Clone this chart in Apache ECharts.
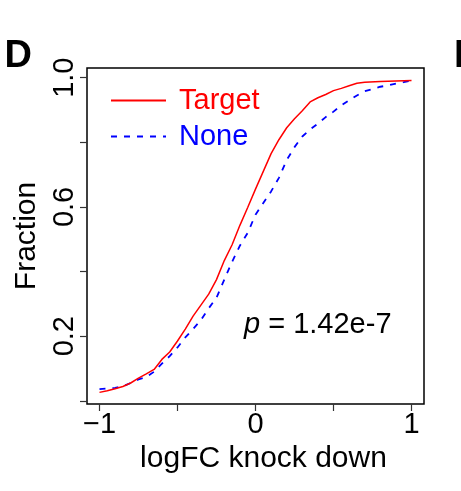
<!DOCTYPE html>
<html>
<head>
<meta charset="utf-8">
<script src="https://cdn.jsdelivr.net/npm/echarts@6/dist/echarts.min.js"></script>
<style>
  html, body { margin: 0; padding: 0; background: #fff; }
  #main { width: 461px; height: 491px; }
</style>
</head>
<body>
<div id="main"></div>
<script>
var FONT = '"Liberation Sans", Arial, Helvetica, sans-serif';

// logFC knock down (x) vs cumulative fraction (y)
var targetX = [-1.0, -0.95, -0.9, -0.85, -0.8, -0.75, -0.7, -0.65, -0.6, -0.55, -0.5, -0.45, -0.4, -0.35, -0.3, -0.25, -0.2, -0.15, -0.1, -0.05,
  0.0, 0.05, 0.1, 0.15, 0.2, 0.25, 0.3, 0.35, 0.4, 0.45, 0.5, 0.55, 0.6, 0.65, 0.7, 0.8, 0.9, 1.0];
var targetY = [0.026, 0.031, 0.037, 0.044, 0.055, 0.070, 0.083, 0.097, 0.128, 0.151, 0.185, 0.222, 0.262, 0.296, 0.330, 0.375, 0.434, 0.483, 0.543, 0.598,
  0.655, 0.710, 0.765, 0.808, 0.845, 0.873, 0.898, 0.925, 0.938, 0.948, 0.960, 0.967, 0.975, 0.983, 0.986, 0.988, 0.990, 0.991];

var noneX = [-1.0, -0.95, -0.9, -0.85, -0.8, -0.75, -0.7, -0.65, -0.6, -0.55, -0.5, -0.45, -0.4, -0.35, -0.3, -0.25, -0.2, -0.15, -0.1, -0.05,
  0.0, 0.05, 0.1, 0.15, 0.2, 0.25, 0.3, 0.35, 0.4, 0.45, 0.5, 0.55, 0.6, 0.65, 0.7, 0.75, 0.8, 0.85, 0.9, 0.95, 1.0];
var noneY = [0.036, 0.038, 0.040, 0.045, 0.055, 0.066, 0.073, 0.090, 0.115, 0.138, 0.165, 0.196, 0.222, 0.250, 0.286, 0.319, 0.375, 0.430, 0.480, 0.520,
  0.576, 0.612, 0.648, 0.690, 0.745, 0.785, 0.818, 0.840, 0.858, 0.878, 0.895, 0.914, 0.930, 0.945, 0.958, 0.965, 0.972, 0.976, 0.982, 0.986, 0.991];

var xTicks = [-1, -0.5, 0, 0.5, 1];
var xLabels = [-1, 0, 1];
var yTicks = [0, 0.2, 0.4, 0.6, 0.8, 1];
var yLabels = [0.2, 0.6, 1];

function pairs(xs, ys) {
  var res = [];
  for (var i = 0; i < xs.length; i++) res.push([xs[i], ys[i]]);
  return res;
}

var chart = echarts.init(document.getElementById('main'), null, { renderer: 'canvas' });

var option = {
  animation: false,
  backgroundColor: '#fff',
  grid: {
    show: true,
    left: 87, right: 37, top: 68, bottom: 87,
    borderColor: '#000',
    borderWidth: 1.5
  },
  legend: {
    orient: 'vertical',
    left: 110,
    top: 86,
    padding: 0,
    itemWidth: 55,
    itemHeight: 14,
    itemGap: 7,
    selectedMode: false,
    itemStyle: { opacity: 0, borderWidth: 0 },
    textStyle: { fontFamily: FONT, fontSize: 29, lineHeight: 29, padding: [0, 0, 0, 8] },
    data: [
      { name: 'Target', textStyle: { color: '#ff0000' } },
      { name: 'None', textStyle: { color: '#0000ff' } }
    ]
  },
  xAxis: {
    type: 'value',
    min: -1.08,
    max: 1.08,
    splitLine: { show: false },
    axisLine: { show: false, onZero: false },
    axisTick: { show: true, length: 7, customValues: xTicks, lineStyle: { color: '#333', width: 1.2 } },
    axisLabel: {
      customValues: xLabels,
      margin: 6,
      color: '#000',
      fontFamily: FONT,
      fontSize: 29,
      formatter: function (v) { return v < 0 ? '\u2212' + Math.abs(v) : String(v); }
    },
    name: 'logFC knock down',
    nameLocation: 'middle',
    nameGap: 40,
    nameTextStyle: { color: '#000', fontFamily: FONT, fontSize: 30, padding: [0, 0, 0, 16] }
  },
  yAxis: {
    type: 'value',
    min: -0.01,
    max: 1.03,
    splitLine: { show: false },
    axisLine: { show: false, onZero: false },
    axisTick: { show: true, length: 7, customValues: yTicks, lineStyle: { color: '#333', width: 1.2 } },
    axisLabel: {
      customValues: yLabels,
      rotate: 90,
      margin: 8,
      color: '#000',
      fontFamily: FONT,
      fontSize: 29,
      formatter: function (v) { return v.toFixed(1); }
    },
    name: 'Fraction',
    nameLocation: 'middle',
    nameGap: 41,
    nameTextStyle: { color: '#000', fontFamily: FONT, fontSize: 30 }
  },
  series: [
    {
      name: 'Target',
      type: 'line',
      symbol: 'none',
      data: pairs(targetX, targetY),
      lineStyle: { color: '#ff0000', width: 1.5 },
      itemStyle: { color: '#ff0000' },
      z: 3
    },
    {
      name: 'None',
      type: 'line',
      symbol: 'none',
      data: pairs(noneX, noneY),
      lineStyle: { color: '#0000ff', width: 1.8, type: [6, 7] },
      itemStyle: { color: '#0000ff' },
      z: 2
    }
  ],
  graphic: [
    {
      type: 'text',
      style: {
        x: 244, y: 325,
        text: '{it|p} = 1.42e-7',
        textVerticalAlign: 'middle',
        fill: '#000',
        font: '29px ' + FONT,
        rich: { it: { fontStyle: 'italic', fontFamily: FONT, fontSize: 29, fill: '#000' } }
      }
    },
    {
      type: 'text',
      style: { x: 4.5, y: 57, text: 'D', textVerticalAlign: 'middle', fill: '#000', font: 'bold 38px ' + FONT }
    },
    {
      type: 'text',
      style: { x: 454, y: 57, text: 'E', textVerticalAlign: 'middle', fill: '#000', font: 'bold 38px ' + FONT }
    }
  ]
};

chart.setOption(option);
</script>
</body>
</html>
